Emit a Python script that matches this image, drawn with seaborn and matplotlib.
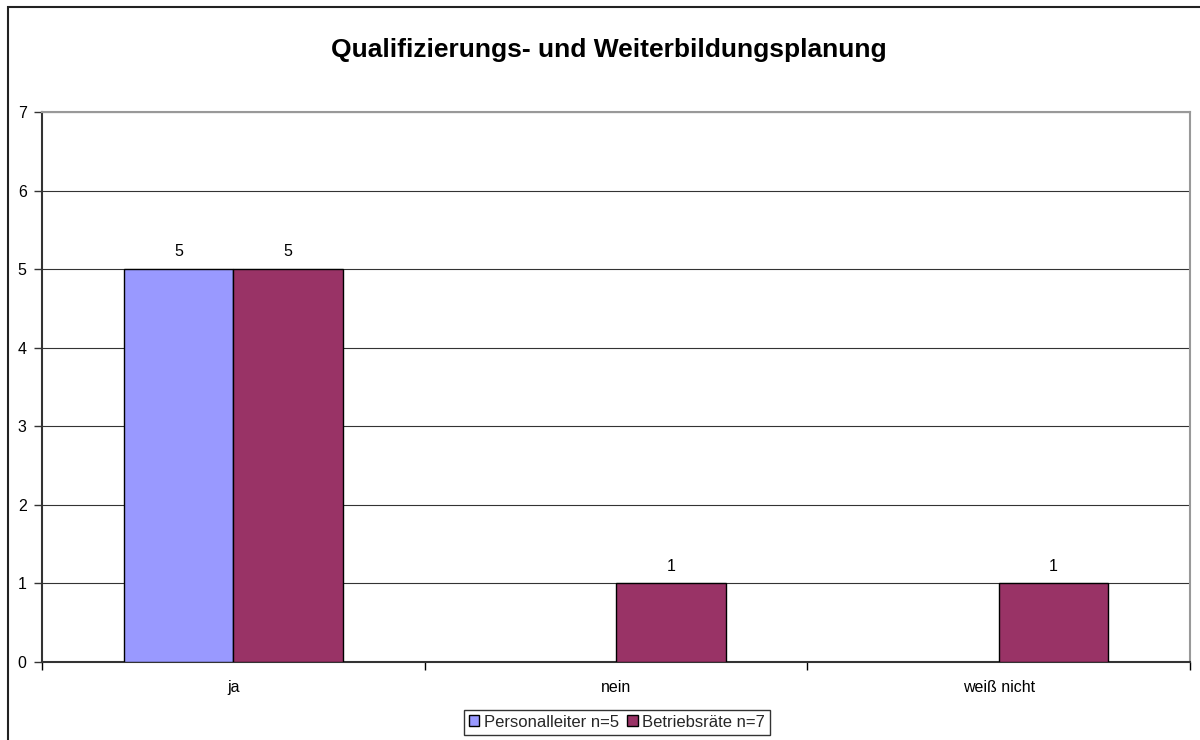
import numpy as np
import pandas as pd
import matplotlib
matplotlib.use("Agg")
import matplotlib.pyplot as plt
import seaborn as sns
from matplotlib.patches import Rectangle

categories = ["ja", "nein", "weiß nicht"]
series_names = ["Personalleiter n=5", "Betriebsräte n=7"]
personalleiter = [5, np.nan, np.nan]
betriebsraete = [5, 1, 1]
colors = ["#9999FF", "#993366"]
title = "Qualifizierungs- und Weiterbildungsplanung"

rows = []
for c, v in zip(categories, personalleiter):
    rows.append({"Kategorie": c, "Gruppe": series_names[0], "Wert": v})
for c, v in zip(categories, betriebsraete):
    rows.append({"Kategorie": c, "Gruppe": series_names[1], "Wert": v})
df = pd.DataFrame(rows)

sns.set_theme(style="white")
plt.rcParams["font.family"] = ["Liberation Sans", "DejaVu Sans"]

fig = plt.figure(figsize=(12, 7.4), dpi=100)
ax = fig.add_axes([0.035, 0.1054, 0.9567, 0.7432])

sns.barplot(data=df, x="Kategorie", y="Wert", hue="Gruppe", order=categories,
            hue_order=series_names, palette=colors, width=0.573, gap=0,
            edgecolor="black", linewidth=1.0, saturation=1, ax=ax, legend=True,
            zorder=3)

for cont in ax.containers:
    labels = []
    for v in cont.datavalues:
        labels.append("" if (v is None or np.isnan(v) or v == 0) else f"{v:g}")
    ax.bar_label(cont, labels=labels, padding=7, fontsize=11.5, color="black")

ax.set_xlim(-0.5, 2.5)
ax.set_ylim(0, 7)
ax.set_yticks(range(0, 8))
ax.yaxis.grid(True, color="#333333", linewidth=0.8, zorder=0)
ax.set_axisbelow(True)
ax.set_xlabel("")
ax.set_ylabel("")

ax.set_xticks([-0.5, 0.5, 1.5, 2.5], minor=True)
ax.tick_params(axis="x", which="major", length=0, labelsize=11.5, pad=13, colors="black")
ax.tick_params(axis="x", which="minor", length=6, width=1, color="black", direction="out")
ax.tick_params(axis="y", length=6, width=1, color="#333333", direction="out",
               labelsize=11.5, pad=5, left=True, labelcolor="black")
ax.xaxis.set_tick_params(which="minor", bottom=True)

for side in ["left", "bottom"]:
    ax.spines[side].set_color("#333333")
    ax.spines[side].set_linewidth(1.5)
for side in ["top", "right"]:
    ax.spines[side].set_visible(True)
    ax.spines[side].set_color("#999999")
    ax.spines[side].set_linewidth(1.5)

handles, labs = ax.get_legend_handles_labels()
ax.get_legend().remove()
leg = fig.legend(handles, labs, loc="lower center", bbox_to_anchor=(0.514, -0.004),
                 ncol=2, frameon=True, fontsize=12, handlelength=0.65, handleheight=0.65,
                 handletextpad=0.25, columnspacing=0.5, borderpad=0.3, fancybox=False)
leg.get_frame().set_edgecolor("black")
leg.get_frame().set_linewidth(1.0)

fig.text(0.5075, 0.932, title, ha="center", va="center", fontsize=19,
         fontweight="bold", color="black")

fig.patches.append(Rectangle((8 / 1200, -0.1), 1.2, 1 - 7 / 740 + 0.1,
                             transform=fig.transFigure, fill=False,
                             edgecolor="#222222", linewidth=1.5, zorder=0))

fig.savefig("out.png", dpi=100, facecolor="white")
